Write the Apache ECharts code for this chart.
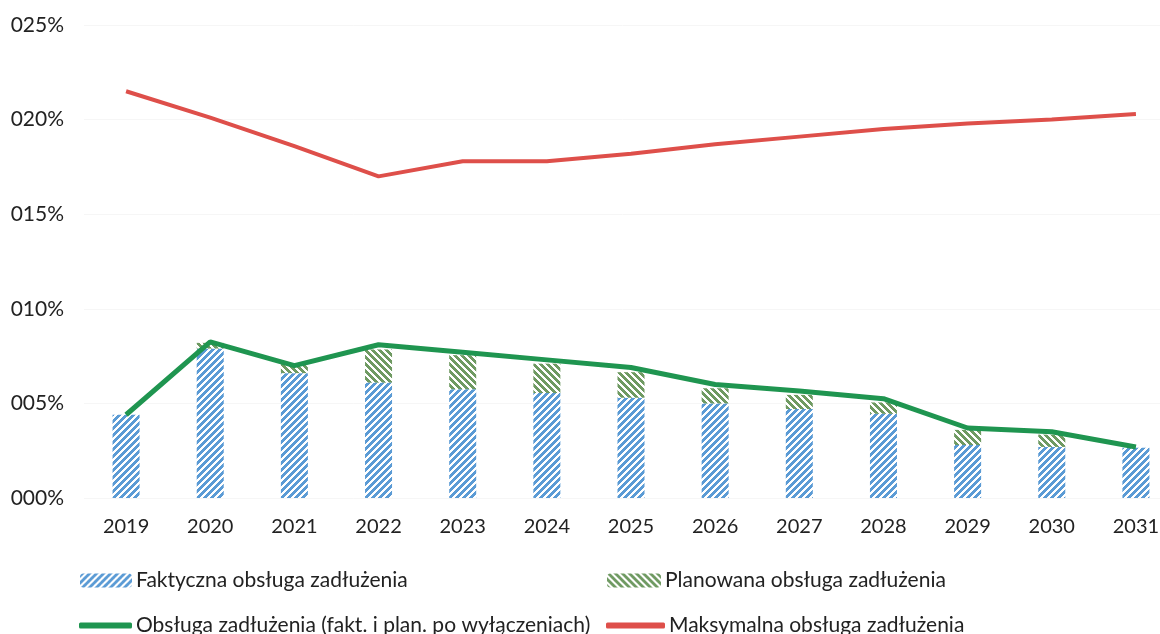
<!DOCTYPE html>
<html>
<head>
<meta charset="utf-8">
<script src="https://cdn.jsdelivr.net/npm/echarts@6/dist/echarts.min.js"></script>
<style>
  html, body { margin: 0; padding: 0; background: #fff; }
  #chart { width: 1160px; height: 634px; }
</style>
</head>
<body>
<div id="chart"></div>
<script>
const years = ['2019', '2020', '2021', '2022', '2023', '2024', '2025', '2026', '2027', '2028', '2029', '2030', '2031'];
const faktyczna = [4.4, 7.9, 6.6, 6.1, 5.75, 5.55, 5.3, 5.0, 4.7, 4.45, 2.8, 2.7, 2.65];
const planowana = [0, 0.3, 0.5, 1.75, 1.8, 1.55, 1.35, 0.8, 0.75, 0.6, 0.8, 0.65, 0];
const obsluga = [4.4, 8.25, 7.0, 8.1, 7.7, 7.3, 6.9, 6.0, 5.65, 5.25, 3.7, 3.5, 2.7];
const maksymalna = [21.5, 20.1, 18.6, 17.0, 17.8, 17.8, 18.2, 18.7, 19.1, 19.5, 19.8, 20.0, 20.3];

const names = [
  'Faktyczna obsługa zadłużenia',
  'Planowana obsługa zadłużenia',
  'Obsługa zadłużenia (fakt. i plan. po wyłączeniach)',
  'Maksymalna obsługa zadłużenia'
];

// hatch tile, dir 1 = "////", dir -1 = "\\\\"
function hatch(color, dir) {
  const n = 7;
  const c = document.createElement('canvas');
  c.width = n; c.height = n;
  const ctx = c.getContext('2d');
  ctx.fillStyle = '#fff';
  ctx.fillRect(0, 0, n, n);
  ctx.fillStyle = color;
  for (let x = 0; x < n; x++) {
    for (let y = 0; y < n; y++) {
      const k = dir > 0 ? (x + y) % n : ((x - y) % n + n) % n;
      if (k < 4) ctx.fillRect(x, y, 1, 1);
    }
  }
  return { image: c, repeat: 'repeat' };
}

const font = 'Lato, "Open Sans", sans-serif';
const chart = echarts.init(document.getElementById('chart'));

const legendBase = {
  orient: 'horizontal',
  itemGap: 0,
  textStyle: { fontFamily: font, fontSize: 21, color: '#222', padding: [0, 0, 0, -1] },
  selectedMode: false
};

chart.setOption({
  backgroundColor: '#fff',
  animation: false,
  // last category runs past the right edge, as in the source
  grid: { left: 84, width: 1094, top: 25, bottom: 136, containLabel: false, outerBoundsMode: 'none' },
  legend: [
    Object.assign({}, legendBase, { data: [names[0]], left: 75, top: 565, itemWidth: 52, itemHeight: 14 }),
    Object.assign({}, legendBase, { data: [names[1]], left: 602, top: 565, itemWidth: 54, itemHeight: 14 }),
    Object.assign({}, legendBase, { data: [{ name: names[2], icon: 'roundRect' }], left: 74, top: 610, itemWidth: 53, itemHeight: 6 }),
    Object.assign({}, legendBase, { data: [{ name: names[3], icon: 'roundRect' }], left: 601, top: 610, itemWidth: 59, itemHeight: 6 })
  ],
  xAxis: {
    type: 'category',
    data: years,
    axisLine: { show: false },
    axisTick: { show: false },
    axisLabel: { fontFamily: font, fontSize: 20, color: '#222', margin: 19 }
  },
  yAxis: {
    type: 'value',
    min: 0,
    max: 25,
    interval: 5,
    axisLine: { show: false },
    axisTick: { show: false },
    splitLine: { show: true, lineStyle: { color: '#f6f6f6', width: 1 } },
    axisLabel: {
      fontFamily: font, fontSize: 21, color: '#222', margin: 20,
      formatter: v => String(v).padStart(3, '0') + '%'
    }
  },
  series: [
    {
      name: names[0], type: 'bar', stack: 'a', barWidth: 27,
      itemStyle: { color: hatch('#5b9bd5', 1) },
      data: faktyczna
    },
    {
      name: names[1], type: 'bar', stack: 'a', barWidth: 27,
      itemStyle: { color: hatch('#6f9a62', -1) },
      data: planowana
    },
    {
      name: names[2], type: 'line', symbol: 'none',
      lineStyle: { color: '#1f9550', width: 5 },
      itemStyle: { color: '#1f9550' },
      data: obsluga
    },
    {
      name: names[3], type: 'line', symbol: 'none',
      lineStyle: { color: '#de4f4a', width: 4 },
      itemStyle: { color: '#de4f4a' },
      data: maksymalna
    }
  ]
});
</script>
</body>
</html>
